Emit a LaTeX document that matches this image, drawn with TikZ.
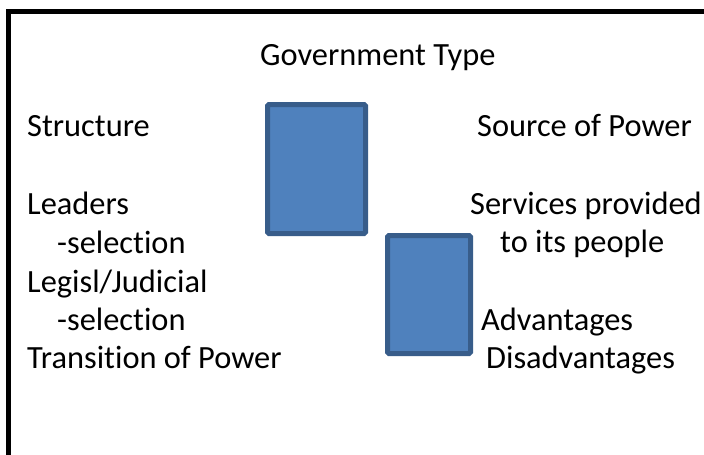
\documentclass[tikz,border=0pt]{standalone}
\usepackage{fontspec}
\setmainfont{Carlito}[RawFeature=-liga]
\usepackage{xcolor}
\usepackage{tikz}
\definecolor{boxblue}{HTML}{4F81BD}
\definecolor{boxedge}{HTML}{385D8A}

\begin{document}
\begin{tikzpicture}[x=1pt,y=-1pt,
    txt/.style={anchor=base west, inner sep=0pt, font=\fontsize{32.4}{38.6}\selectfont},
    bluebox/.style={fill=boxblue, draw=boxedge, line width=5pt, rounded corners=1.5pt}]
    \useasboundingbox (0,0) rectangle (704,455);
    \clip (0,0) rectangle (704,455);

    % Frame
    \draw[line width=5pt] (8.5,11.5) rectangle (720,470);

    % Title
    \node[txt] (title) at (260,65) {Government Type};

    % Left column
    \node[txt] (structure) at (27,136) {Structure};
    \node[txt] (leaders) at (27,214) {Leaders};
    \node[txt] (leadsel) at (57,253) {-selection};
    \node[txt] (legis) at (27,292) {Legisl/Judicial};
    \node[txt] (legsel) at (57,330) {-selection};
    \node[txt] (transition) at (27,368) {Transition of Power};

    % Boxes
    \fill[bluebox] (267.5,104.5) rectangle (365.5,233.5);
    \fill[bluebox] (387.5,235.5) rectangle (470.5,353.5);

    % Right column
    \node[txt] (source) at (477,136) {Source of Power};
    \node[txt] (services) at (470,214) {Services provided};
    \node[txt] (people) at (500,252) {to its people};
    \node[txt] (adv) at (481,330) {Advantages};
    \node[txt] (disadv) at (486,368) {Disadvantages};
\end{tikzpicture}
\end{document}
